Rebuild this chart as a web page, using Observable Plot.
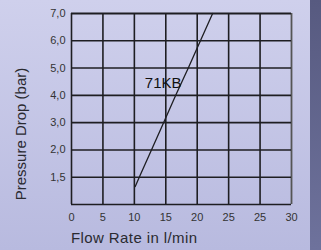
<!DOCTYPE html>
<html><head><meta charset="utf-8">
<script src="https://cdn.jsdelivr.net/npm/d3@7"></script>
<script src="https://cdn.jsdelivr.net/npm/@observablehq/plot@0.6"></script>
<style>
html,body{margin:0;padding:0;}
#wrap{width:321px;height:250px;position:relative;overflow:hidden;font-family:"Liberation Sans",Arial,sans-serif;
background:linear-gradient(to bottom,#cfd0ec,#b8badf);}
#strip{position:absolute;left:310px;top:0;width:11px;height:250px;background:linear-gradient(to bottom,#575a80,#6e729c);}
#wrap svg{position:absolute;left:0;top:0;}
.title{position:absolute;font-size:15px;color:#2a2a30;white-space:nowrap;line-height:1;}
#xt{left:71px;top:230px;letter-spacing:0.4px;}
#yt{left:20px;top:134px;transform:translate(-50%,-50%) rotate(-90deg);}
</style></head>
<body><div id="wrap"><div id="strip"></div><div class="title" id="xt"></div><div class="title" id="yt"></div></div>
<script>
// y axis: piecewise grid (bar)
const yGrid = [1, 1.5, 2, 3, 4, 5, 6, 7];
const yTicks = [1.5, 2, 3, 4, 5, 6, 7];
const yTickLabels = ["1,5", "2,0", "3,0", "4,0", "5,0", "6,0", "7,0"];
// x axis (l/min) grid positions and printed labels
const xTicks = [0, 5, 10, 15, 20, 25, 30, 35];
const xTickLabels = ["0", "5", "10", "15", "20", "25", "25", "30"];
// 71KB curve
const flow = [10.14, 10.78, 12.72, 14.65, 16.58, 18.58, 20.51, 22.45];
const drop = [1.33, 1.5, 2.0, 3.0, 4.0, 5.0, 6.0, 7.0];
const seriesLabel = "71KB";
const xTitle = "Flow Rate in l/min";
const yTitle = "Pressure Drop (bar)";

const curve = flow.map((f, i) => ({flow: f, drop: drop[i]}));
const ink = "#1e1e22";

const plot = Plot.plot({
  width: 321, height: 250,
  marginLeft: 71, marginRight: 30, marginTop: 13, marginBottom: 46,
  style: {background: "transparent", fontFamily: "'Liberation Sans', Arial, sans-serif", fontSize: "11px"},
  x: {type: "linear", domain: [0, 35], ticks: xTicks, tickFormat: d => xTickLabels[xTicks.indexOf(d)], tickSize: 0, tickPadding: 9, label: null},
  y: {type: "linear", domain: yGrid, range: [204, 13], ticks: yTicks, tickFormat: d => yTickLabels[yTicks.indexOf(d)], tickSize: 0, tickPadding: 6, label: null},
  marks: [
    Plot.ruleX(xTicks.slice(0, -1), {stroke: ink, strokeWidth: 1.6}),
    Plot.ruleX([35], {stroke: "#555", strokeWidth: 1.8}),
    Plot.ruleY(yTicks.slice(0, -1), {stroke: ink, strokeWidth: 1.6}),
    Plot.ruleY([7], {stroke: ink, strokeWidth: 2.2}),
    Plot.ruleY([1], {stroke: ink, strokeWidth: 1.6}),
    Plot.line(curve, {x: "flow", y: "drop", stroke: ink, strokeWidth: 1.3}),
    Plot.text([seriesLabel], {x: () => 17.5, y: () => 4.45, text: d => d, textAnchor: "end", fontSize: 15, fill: "#111"})
  ]
});
plot.querySelectorAll('[aria-label="x-axis tick label"], [aria-label="y-axis tick label"]').forEach(g => g.setAttribute("fill", "#333"));
document.getElementById("wrap").appendChild(plot);
document.getElementById("xt").textContent = xTitle;
document.getElementById("yt").textContent = yTitle;
</script></body></html>
